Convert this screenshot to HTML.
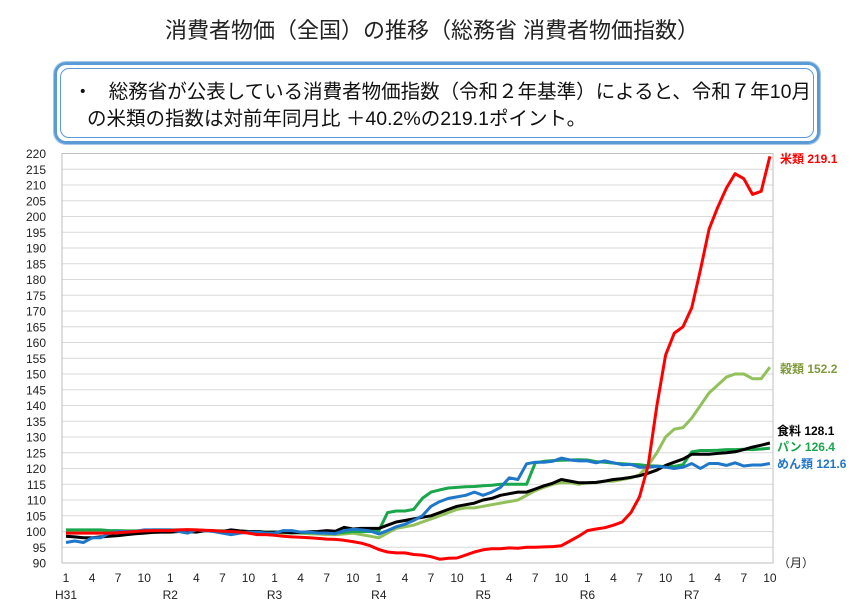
<!DOCTYPE html>
<html><head><meta charset="utf-8">
<style>
html,body{margin:0;padding:0;background:#fff;}
body{width:864px;height:610px;overflow:hidden;position:relative;font-family:"Liberation Sans","Noto Sans CJK JP",sans-serif;}
.title{position:absolute;top:13px;left:0;width:864px;text-align:center;font-size:22px;color:#222;}
.box{position:absolute;left:54px;top:62px;width:760px;height:76px;border:3px solid #5b9bd5;border-radius:12px;box-shadow:0 0 0 1px #a9c8e8;}
.box .in{position:absolute;left:3px;top:3px;right:3px;bottom:3px;border:1px solid #5b9bd5;border-radius:9px;}
.t{position:absolute;left:16px;font-size:19.5px;color:#111;white-space:nowrap;}
</style></head><body>
<div class="title">消費者物価（全国）の推移（総務省 消費者物価指数）</div>
<div class="box"><div class="in"></div>
<div class="t" style="top:10px">・&nbsp;&nbsp;&nbsp;総務省が公表している消費者物価指数（令和２年基準）によると、令和７年10月</div>
<div class="t" style="top:37px;left:30px">の米類の指数は対前年同月比 ＋40.2%の219.1ポイント。</div>
</div>
<svg id="c" width="864" height="610" style="position:absolute;left:0;top:0" xmlns="http://www.w3.org/2000/svg" font-family="Liberation Sans, Noto Sans CJK JP, sans-serif"></svg>
<script>
var X0=66,ST=8.69,L=62,R=773,T=153.5,B=563;
function y(v){return B-(v-90)*(B-T)/130;}
var s='';
for(var v=90;v<=220;v+=5){var yy=y(v);
 if(v>90&&v<220)s+='<line x1="'+L+'" x2="'+R+'" y1="'+yy+'" y2="'+yy+'" stroke="#d9d9d9" stroke-width="1"/>';
 s+='<text x="46" y="'+(yy+4.5)+'" font-size="12" text-anchor="end" fill="#222">'+v+'</text>';}
s+='<rect x="'+L+'" y="'+T+'" width="'+(R-L)+'" height="'+(B-T)+'" fill="none" stroke="#bfbfbf"/>';
var yrs=['H31','R2','R3','R4','R5','R6','R7'];
for(var i=0;i<82;i++){var m=i%12;if(m%3==0){s+='<text x="'+(X0+ST*i)+'" y="582" font-size="12" text-anchor="middle" fill="#222">'+(m+1)+'</text>';}
 if(m==0)s+='<text x="'+(X0+ST*i)+'" y="599" font-size="12" text-anchor="middle" fill="#222">'+yrs[i/12]+'</text>';}
s+='<text x="778" y="567" font-size="12" fill="#222">（月）</text>';
var rice=[99.5,99.5,99.5,99.5,99.5,99.5,99.6,99.8,100,100.2,100.3,100.3,
100.3,100.5,100.6,100.5,100.4,100.3,100.1,100,99.8,99.5,99,99,
98.8,98.5,98.3,98.2,98,97.8,97.6,97.5,97.2,96.8,96.3,95.5,
94.3,93.5,93.2,93.2,92.7,92.5,92,91.2,91.5,91.6,92.5,93.5,
94.2,94.5,94.5,94.8,94.7,95,95,95.1,95.2,95.5,97,98.5,
100.3,100.8,101.2,102,103,106,111,121,140,156,163,165,
171,183,196,203,209,213.6,212,207,208,219.1];
var cer=[100,100,100,100,100,100,100,100,100,100,100.3,100.3,
100.3,100.3,100.5,100.5,100.3,100.2,100.2,100,100,100,99.8,99.8,
99.8,99.5,99.5,99.5,99.3,99.2,99,99,99.2,99.5,99,98.5,
98,99.5,101,101.5,102,103,104,105,106,107,107.5,107.5,
108,108.5,109,109.5,110,111.5,113,114,115,115.5,115.5,115,
115.5,115.5,116,116,116.5,117,118,121,125,130,132.5,133,
136,140,144,146.5,149,150,150,148.5,148.5,152.2];
var food=[98.5,98.3,98,98,98.3,98.5,98.7,99,99.3,99.5,99.7,99.8,
99.8,100,100,99.8,100.3,100.2,100,100.5,100.2,100,100,99.7,
99.8,99.8,99.6,99.7,99.9,100,100.3,100.1,101.3,100.8,101,101,
101,102,103,103.5,104,104.5,105,106,107,108,108.5,109,
110,110.5,111.5,112,112.5,112.5,113.5,114.5,115.3,116.5,116,115.5,
115.5,115.6,116,116.5,116.8,117.2,117.7,118.5,119.5,121,122,123,
124.5,124.5,124.5,124.8,125,125.3,126,126.8,127.4,128.1];
var bread=[100.5,100.5,100.5,100.5,100.5,100.3,100.3,100.2,100.2,100.3,100.5,100.5,
100.5,100.5,100.5,100.3,100.3,100.2,100.2,100,100,100,100,99.8,
99.8,99.8,99.8,99.6,99.6,99.6,99.5,99.5,99.7,100,100,100,
100.2,106,106.5,106.5,107,110.5,112.5,113.2,113.8,114,114.2,114.3,
114.5,114.7,115,115,115,115,121.8,122.3,122.5,122.6,122.7,122.8,
122.7,122.2,122,121.7,121.5,121.3,121.2,120.9,120.8,120.6,120.7,121.2,
125.3,125.7,125.7,125.8,126,126,126.1,126,126.2,126.4];
var nood=[96.5,97,96.5,98,98,99.5,100,100,100,100.5,100.5,100.5,
100.5,100,99.5,100.5,100.3,100,99.5,99,99.5,99.8,99.8,99.5,
99.5,100.3,100.3,99.8,99.8,99.5,99.5,99.3,100.3,100.7,100.5,100.2,
99.2,100.3,101.5,102.3,103.5,105,108,109.5,110.5,111,111.5,112.5,
111.5,112.5,114,117,116.5,121.5,122,122,122.3,123.3,122.7,122.4,
122.4,121.8,122.4,121.8,121.2,121.3,120.4,120.4,120.7,120.4,120,120.4,
121.6,120,121.6,121.6,121,121.8,120.8,121.1,121.1,121.6];
function pl(a,c){var p=a.map(function(v,i){return (X0+ST*i).toFixed(1)+','+y(v).toFixed(1)}).join(' ');
 return '<polyline points="'+p+'" fill="none" stroke="'+c+'" stroke-width="3" stroke-linejoin="round"/>';}
s+=pl(cer,'#92c05a')+pl(bread,'#1aa64a')+pl(food,'#000')+pl(nood,'#1f77c9')+pl(rice,'#ff0000');
s+='<text x="780" y="163" font-size="12" font-weight="bold" fill="#ff0000">米類 219.1</text>';
s+='<text x="780" y="373" font-size="12" font-weight="bold" fill="#7f9a3a">穀類 152.2</text>';
s+='<text x="777" y="435" font-size="12" font-weight="bold" fill="#000">食料 128.1</text>';
s+='<text x="777" y="451" font-size="12" font-weight="bold" fill="#1aa64a">パン 126.4</text>';
s+='<text x="777" y="468" font-size="12" font-weight="bold" fill="#1f77c9">めん類 121.6</text>';
document.getElementById('c').innerHTML=s;
</script>
</body></html>
